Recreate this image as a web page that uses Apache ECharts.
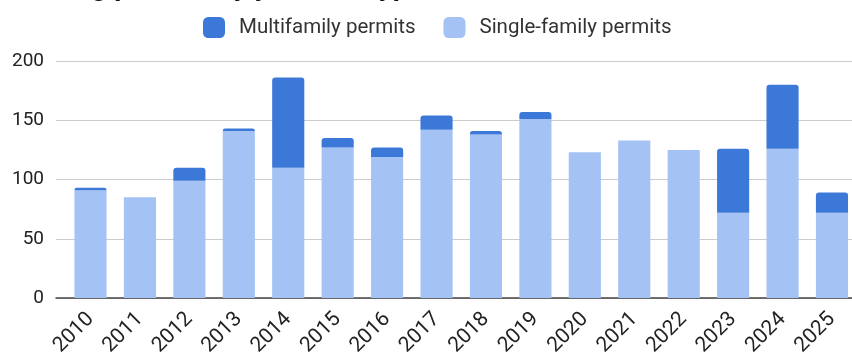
<!DOCTYPE html>
<html>
<head>
<meta charset="utf-8">
<script src="https://cdn.jsdelivr.net/npm/echarts@6/dist/echarts.min.js"></script>
<style>
html,body{margin:0;padding:0;background:#fff;}
#chart{width:852px;height:354px;}
</style>
</head>
<body>
<div id="chart"></div>
<script>
const years = ['2010','2011','2012','2013','2014','2015','2016','2017','2018','2019','2020','2021','2022','2023','2024','2025'];
const singleFamily = [91, 85, 99, 141, 110, 127, 119, 142, 138, 151, 123, 133, 125, 72, 126, 72];
const multifamily = [2, 0, 11, 2, 76, 8, 8, 12, 3, 6, 0, 0, 0, 54, 54, 17];
const yTicks = [0, 50, 100, 150, 200];
const titleText = 'Building permits by year and type';
const seriesNames = ['Multifamily permits', 'Single-family permits'];

const chart = echarts.init(document.getElementById('chart'), null, {renderer: 'canvas'});
const font = 'Roboto, "Noto Sans", sans-serif';
chart.setOption({
  animation: false,
  title: {
    text: titleText,
    left: -1,
    top: -31,
    textStyle: {fontFamily: font, fontSize: 28, fontWeight: 'bold', color: '#111'}
  },
  legend: {
    data: seriesNames,
    left: 198,
    top: 12,
    itemWidth: 22,
    itemHeight: 21,
    itemGap: 28,
    icon: 'roundRect',
    textStyle: {fontFamily: font, fontSize: 20.5, color: '#333', padding: [0, 0, 0, 9]}
  },
  grid: [
    {left: 56, right: 0, top: 61, bottom: 56, containLabel: false, outerBoundsMode: 'none'},
    {left: 65.8, right: -4.7, top: 61, bottom: 56, containLabel: false, outerBoundsMode: 'none'}
  ],
  xAxis: [
    {type: 'value', gridIndex: 0, min: 0, max: 1, show: true,
      axisLine: {show: true, onZero: false, lineStyle: {color: '#444', width: 1.5}},
      axisTick: {show: false}, axisLabel: {show: false}, splitLine: {show: false}},
    {type: 'category', gridIndex: 1, data: years,
      axisLine: {show: false}, axisTick: {show: false},
      axisLabel: {rotate: 45, margin: 18, fontFamily: font, fontSize: 21, color: '#222', interval: 0}}
  ],
  yAxis: [
    {type: 'value', gridIndex: 0, min: yTicks[0], max: yTicks[yTicks.length-1], interval: 50,
      axisLine: {show: false}, axisTick: {show: false},
      axisLabel: {margin: 12, fontFamily: font, fontSize: 19, color: '#222'},
      splitLine: {lineStyle: {color: '#cccccc', width: 1}}},
    {type: 'value', gridIndex: 1, min: yTicks[0], max: yTicks[yTicks.length-1], interval: 50, show: false}
  ],
  series: [
    {name: seriesNames[1], type: 'bar', stack: 'total', xAxisIndex: 1, yAxisIndex: 1,
      data: singleFamily, barWidth: '65%',
      itemStyle: {color: '#a4c2f4'}},
    {name: seriesNames[0], type: 'bar', stack: 'total', xAxisIndex: 1, yAxisIndex: 1,
      data: multifamily, barWidth: '65%',
      itemStyle: {color: '#3c78d8', borderRadius: [3, 3, 0, 0]}}
  ]
});
</script>
</body>
</html>
